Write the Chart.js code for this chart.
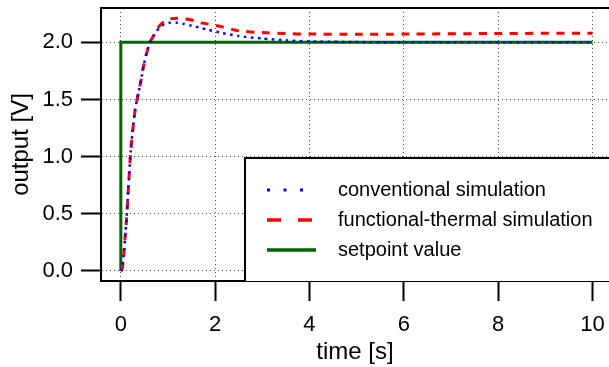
<!DOCTYPE html>
<html>
<head>
<meta charset="utf-8">
<title>output vs time</title>
<script src="https://cdn.jsdelivr.net/npm/chart.js@4/dist/chart.umd.min.js"></script>
<style>
  html, body { margin: 0; padding: 0; background: #fff; }
  #wrap { width: 609px; height: 367px; }
</style>
</head>
<body>
<div id="wrap"><canvas id="chart" width="609" height="367"></canvas></div>
<script>
// --- DATA ---
const time = [0, 0.03, 0.06, 0.09, 0.12, 0.15, 0.18, 0.21, 0.25, 0.30, 0.37, 0.43, 0.48, 0.55, 0.62, 0.69, 0.76, 0.83, 0.93, 1.05, 1.2, 1.35, 1.5, 1.7, 1.85, 2.1, 2.5, 3.0, 3.5, 4.0, 5.0, 6.0, 8.0, 10.0];
const conventional = [0, 0.02, 0.13, 0.29, 0.45, 0.65, 0.86, 1.05, 1.22, 1.40, 1.55, 1.67, 1.79, 1.91, 2.0, 2.05, 2.10, 2.13, 2.16, 2.17, 2.17, 2.16, 2.145, 2.125, 2.11, 2.085, 2.055, 2.033, 2.017, 2.008, 2.002, 2.0, 2.0, 2.0];
const functionalThermal = [0, 0.02, 0.13, 0.29, 0.45, 0.65, 0.86, 1.05, 1.22, 1.40, 1.55, 1.67, 1.79, 1.91, 2.0, 2.055, 2.11, 2.15, 2.185, 2.205, 2.21, 2.205, 2.195, 2.17, 2.16, 2.14, 2.10, 2.085, 2.076, 2.072, 2.07, 2.072, 2.077, 2.08];
const setpointTime = [0, 0, 10];
const setpointValue = [0, 2, 2];

const xTicks = [0, 2, 4, 6, 8, 10];
const yTicks = [0, 0.5, 1.0, 1.5, 2.0];
const seriesLabels = ['conventional simulation', 'functional-thermal simulation', 'setpoint value'];

const FONT = '"Liberation Sans", Arial, sans-serif';

function toPoints(xs, ys) {
  return xs.map((x, i) => ({ x: x, y: ys[i] }));
}

// no extra room for end labels, the ticks are not at the axis ends
function noLabelPadding(scale) {
  scale.paddingTop = 0;
  scale.paddingBottom = 0;
  scale.paddingLeft = 0;
  scale.paddingRight = 0;
}

// --- Legend box drawn inside the plot (white box, black frame) ---
const boxedLegend = {
  id: 'boxedLegend',
  afterDraw(chart) {
    const ctx = chart.ctx;
    const area = chart.chartArea;
    ctx.save();

    // top frame line
    ctx.strokeStyle = '#000';
    ctx.lineWidth = 2;
    ctx.beginPath();
    ctx.moveTo(area.left - 1, area.top);
    ctx.lineTo(area.right + 2, area.top);
    ctx.stroke();

    // legend box
    const bx = 245, by = 158;
    ctx.fillStyle = '#fff';
    ctx.fillRect(bx, by, 380, area.bottom - by);
    ctx.beginPath();
    ctx.moveTo(bx, area.bottom);
    ctx.lineTo(bx, by);
    ctx.lineTo(640, by);
    ctx.stroke();

    const rows = [190, 220, 250];
    const samples = [
      { color: 'blue', width: 3, dash: [3, 13.5], end: 304 },
      { color: 'red', width: 3.5, dash: [14, 17], end: 316 },
      { color: '#006400', width: 3.5, dash: [], end: 316 }
    ];
    samples.forEach((s, i) => {
      ctx.strokeStyle = s.color;
      ctx.lineWidth = s.width;
      ctx.setLineDash(s.dash);
      ctx.beginPath();
      ctx.moveTo(267, rows[i]);
      ctx.lineTo(s.end, rows[i]);
      ctx.stroke();
    });
    ctx.setLineDash([]);
    ctx.fillStyle = '#000';
    ctx.font = '20px ' + FONT;
    ctx.textBaseline = 'middle';
    ctx.textAlign = 'left';
    seriesLabels.forEach((label, i) => ctx.fillText(label, 338, rows[i]));
    ctx.restore();
  }
};

// --- Chart ---
const ctx = document.getElementById('chart').getContext('2d');
new Chart(ctx, {
  type: 'line',
  data: {
    datasets: [
      {
        label: seriesLabels[0],
        data: toPoints(time, conventional),
        borderColor: 'blue',
        borderWidth: 2.5,
        borderDash: [2.5, 4.5],
        pointRadius: 0,
        tension: 0.2,
        fill: false
      },
      {
        label: seriesLabels[1],
        data: toPoints(time, functionalThermal),
        borderColor: 'red',
        borderWidth: 3,
        borderDash: [8, 7.5],
        pointRadius: 0,
        tension: 0.2,
        fill: false
      },
      {
        label: seriesLabels[2],
        data: toPoints(setpointTime, setpointValue),
        borderColor: '#006400',
        borderWidth: 3,
        pointRadius: 0,
        tension: 0,
        fill: false
      }
    ]
  },
  options: {
    responsive: false,
    animation: false,
    devicePixelRatio: 1,
    layout: { padding: { top: 8, right: 0, left: 0, bottom: 0 } },
    plugins: {
      legend: { display: false },
      tooltip: { enabled: false }
    },
    scales: {
      x: {
        type: 'linear',
        min: -0.42,
        max: 10.35,
        afterBuildTicks: (scale) => { scale.ticks = xTicks.map(v => ({ value: v })); },
        afterFit: (scale) => { scale.height = 86; noLabelPadding(scale); },
        ticks: {
          color: '#000',
          font: { family: FONT, size: 22 },
          padding: 11,
          maxRotation: 0,
          callback: (v) => String(v)
        },
        grid: {
          color: 'rgba(0,0,0,0.7)',
          lineWidth: 1,
          tickLength: 20,
          tickColor: '#000',
          tickWidth: 2
        },
        border: { display: true, color: '#000', width: 2, dash: [1, 3] },
        title: {
          display: true,
          text: 'time [s]',
          color: '#000',
          font: { family: FONT, size: 24 },
          padding: { top: 0, bottom: 0 }
        }
      },
      y: {
        type: 'linear',
        min: -0.0875,
        max: 2.3,
        afterBuildTicks: (scale) => { scale.ticks = yTicks.map(v => ({ value: v })); },
        afterFit: (scale) => { scale.width = 101; noLabelPadding(scale); },
        ticks: {
          color: '#000',
          font: { family: FONT, size: 22 },
          padding: 8,
          callback: (v) => v.toFixed(1)
        },
        grid: {
          color: 'rgba(0,0,0,0.7)',
          lineWidth: 1,
          tickLength: 20,
          tickColor: '#000',
          tickWidth: 2
        },
        border: { display: true, color: '#000', width: 2, dash: [1, 3] },
        title: {
          display: true,
          text: 'output [V]',
          color: '#000',
          font: { family: FONT, size: 24 },
          padding: { top: 7, bottom: 0 }
        }
      }
    }
  },
  plugins: [boxedLegend]
});
</script>
</body>
</html>
